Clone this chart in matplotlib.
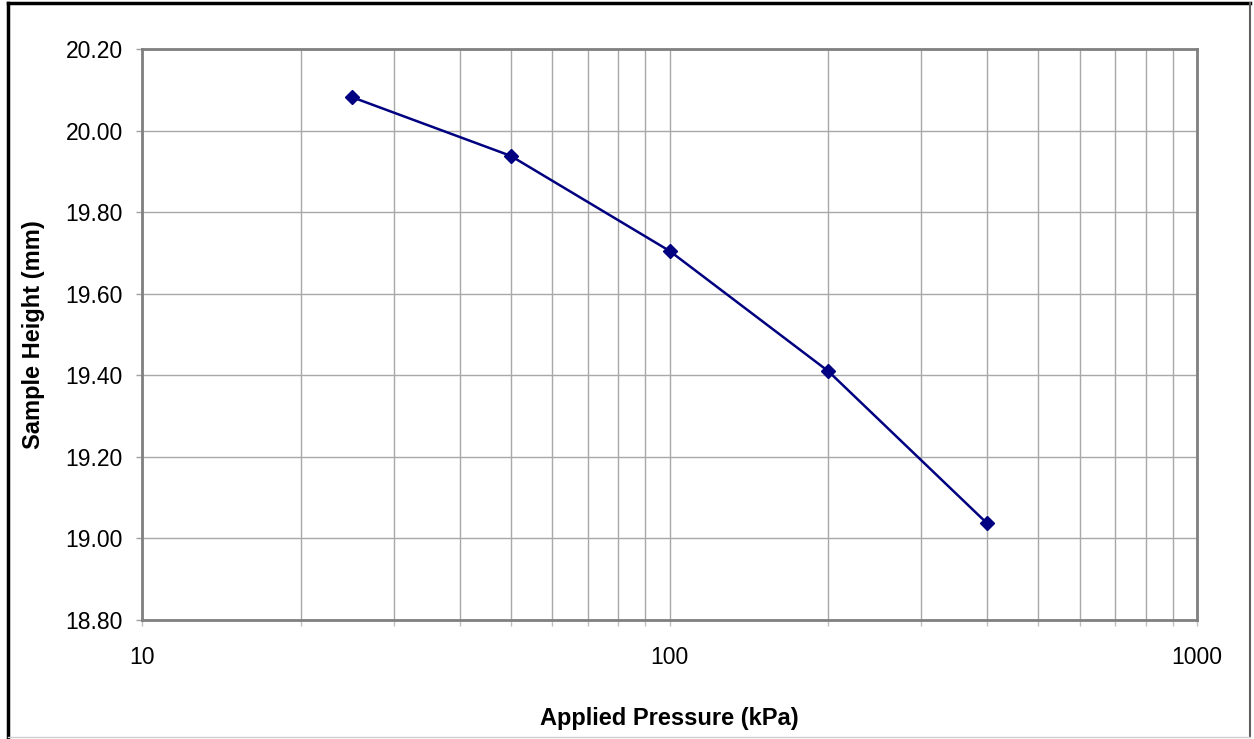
import numpy as np
import matplotlib
matplotlib.use('Agg')
import matplotlib.pyplot as plt
from matplotlib.lines import Line2D
from matplotlib.ticker import FixedLocator, LogLocator, NullFormatter, FuncFormatter

# %% data

pressure = [25, 50, 100, 200, 400]
height = [20.082, 19.938, 19.705, 19.410, 19.037]
x_ticks = [10, 100, 1000]
y_ticks = [18.80, 19.00, 19.20, 19.40, 19.60, 19.80, 20.00, 20.20]

# %% figure

plt.rcParams['font.family'] = ['Liberation Sans', 'DejaVu Sans']

W, H = 1254, 739
fig = plt.figure(figsize=(W / 100, H / 100), dpi=100)
ax = fig.add_axes([142 / W, 1 - 620 / H, (1197 - 142) / W, (620 - 49) / H])

ax.plot(pressure, height, color='#000080', lw=1.8, marker='D', ms=7,
        markerfacecolor='#000080', markeredgecolor='#000080', zorder=3)

ax.set_xscale('log')
ax.set_xlim(10, 1000)
ax.set_ylim(18.80, 20.20)
ax.xaxis.set_major_locator(FixedLocator(x_ticks))
ax.xaxis.set_major_formatter(FuncFormatter(lambda v, p: '%d' % v))
ax.xaxis.set_minor_locator(LogLocator(base=10, subs=np.arange(2, 10)))
ax.xaxis.set_minor_formatter(NullFormatter())
ax.yaxis.set_major_locator(FixedLocator(y_ticks))
ax.yaxis.set_major_formatter(FuncFormatter(lambda v, p: '%.2f' % v))

ax.grid(True, which='major', color='#a8a8a8', lw=1)
ax.grid(True, which='minor', axis='x', color='#a8a8a8', lw=1)
ax.set_axisbelow(True)

for s in ax.spines.values():
    s.set_color('#808080')
    s.set_linewidth(2)

ax.tick_params(axis='y', which='major', length=4.3, width=1, color='#a0a0a0',
               labelsize=16.5, pad=9.4)
ax.tick_params(axis='x', which='both', length=4.3, width=1, color='#c0c0c0',
               labelsize=16.5, pad=14.5)

ax.set_xlabel('Applied Pressure (kPa)', fontsize=17, fontweight='bold', labelpad=27)
ax.set_ylabel('Sample Height (mm)', fontsize=17, fontweight='bold', labelpad=14.5)

# outer frame (top/left dark, right/bottom lighter)
fig.lines.append(Line2D([8 / W, 8 / W], [0, 1 - 3 / H], transform=fig.transFigure,
                        color='black', lw=2.5))
fig.lines.append(Line2D([8 / W, 1 - 4 / W], [1 - 3 / H, 1 - 3 / H], transform=fig.transFigure,
                        color='black', lw=2.5))
fig.lines.append(Line2D([1 - 4 / W, 1 - 4 / W], [2 / H, 1 - 3 / H], transform=fig.transFigure,
                        color='#606060', lw=1.5))
fig.lines.append(Line2D([8 / W, 1 - 4 / W], [2 / H, 2 / H], transform=fig.transFigure,
                        color='#d0d0d0', lw=1))

plt.savefig('out.png', dpi=100)
